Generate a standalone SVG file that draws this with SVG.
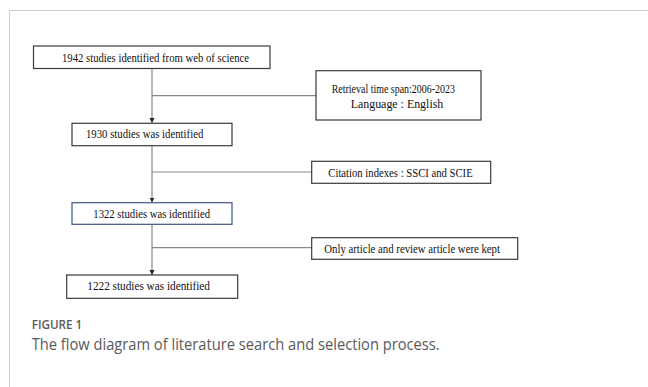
<svg xmlns="http://www.w3.org/2000/svg" width="648" height="387" viewBox="0 0 648 387">
<style>
.box{fill:#fff;stroke:#3a3a3a;stroke-width:1.2}
.t{font-family:"Liberation Serif","Times New Roman",serif;font-size:12.5px;fill:#111}
.c{stroke:#888;stroke-width:1.2;fill:none}
.cap{font-family:"Open Sans","Noto Sans",sans-serif;fill:#5a5a5a}
</style>
<defs>
<marker id="ah" markerWidth="6" markerHeight="6" refX="5" refY="3" orient="auto" markerUnits="userSpaceOnUse">
<path d="M0,0.5 L5,3 L0,5.5 Z" fill="#222"/>
</marker>
</defs>
<rect x="0" y="0" width="648" height="387" fill="#fff"/>
<path d="M9.5,387 V10.5 H648" fill="none" stroke="#cfcfcf" stroke-width="1"/>
<g id="connectors">
<line class="c" x1="152" y1="68.5" x2="152" y2="123" marker-end="url(#ah)"/>
<line class="c" x1="152" y1="95.7" x2="316" y2="95.7"/>
<line class="c" x1="152" y1="146" x2="152" y2="202.5" marker-end="url(#ah)"/>
<line class="c" x1="152" y1="172" x2="312" y2="172"/>
<line class="c" x1="152" y1="224.5" x2="152" y2="275" marker-end="url(#ah)"/>
<line class="c" x1="152" y1="247.7" x2="312" y2="247.7"/>
</g>
<g id="n1">
<rect class="box" x="33.5" y="46" width="236.5" height="22.5"/>
<text class="t" x="62" y="61.5" textLength="187" lengthAdjust="spacingAndGlyphs">1942 studies identified from web of science</text>
</g>
<g id="r1">
<rect class="box" x="316" y="70.7" width="165" height="49.3"/>
<text class="t" x="331.7" y="93" textLength="123.3" lengthAdjust="spacingAndGlyphs">Retrieval time span:2006-2023</text>
<text class="t" x="350.7" y="107.5" textLength="92.6" lengthAdjust="spacingAndGlyphs">Language : English</text>
</g>
<g id="n2">
<rect class="box" x="72" y="123.3" width="160" height="22.4"/>
<text class="t" x="86" y="138.3" textLength="117.3" lengthAdjust="spacingAndGlyphs">1930 studies was identified</text>
</g>
<g id="r2">
<rect class="box" x="311.7" y="161.3" width="179" height="22"/>
<text class="t" x="328.3" y="176.7" textLength="144.4" lengthAdjust="spacingAndGlyphs">Citation indexes : SSCI and SCIE</text>
</g>
<g id="n3">
<rect class="box" x="72" y="202.7" width="160" height="21.6" style="stroke:#3d5680"/>
<text class="t" x="93.3" y="217.7" textLength="116.7" lengthAdjust="spacingAndGlyphs">1322 studies was identified</text>
</g>
<g id="r3">
<rect class="box" x="311.7" y="237.7" width="206" height="21.6"/>
<text class="t" x="324.3" y="253.3" textLength="175.7" lengthAdjust="spacingAndGlyphs">Only article and review article were kept</text>
</g>
<g id="n4">
<rect class="box" x="66.7" y="275" width="171" height="23.3"/>
<text class="t" x="87.3" y="290" textLength="122.7" lengthAdjust="spacingAndGlyphs">1222 studies was identified</text>
</g>
<text class="cap" x="31.7" y="329" font-size="12" font-weight="600" textLength="50.6" lengthAdjust="spacingAndGlyphs">FIGURE 1</text>
<text class="cap" x="31.7" y="350" font-size="16.5" textLength="408" lengthAdjust="spacingAndGlyphs">The flow diagram of literature search and selection process.</text>
</svg>
